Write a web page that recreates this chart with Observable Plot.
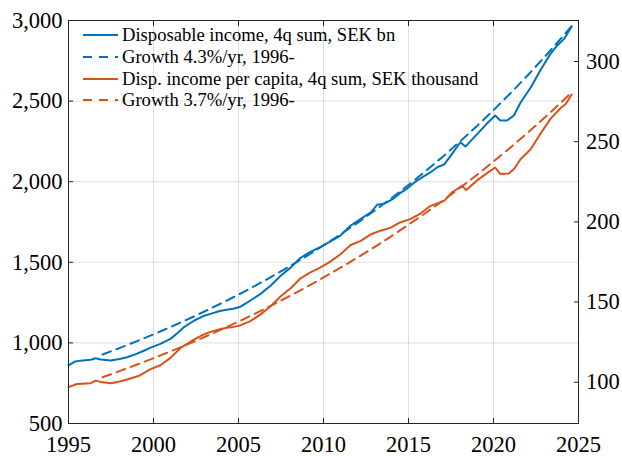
<!DOCTYPE html>
<html>
<head>
<meta charset="utf-8">
<script src="https://cdn.jsdelivr.net/npm/d3@7"></script>
<script src="https://cdn.jsdelivr.net/npm/@observablehq/plot@0.6"></script>
<style>
  html, body { margin: 0; padding: 0; background: #fff; }
  #wrap { position: relative; width: 622px; height: 456px; }
  #wrap svg text { font-family: "Liberation Serif", "Times New Roman", serif; }
  #legend { position: absolute; left: 83px; top: 24.5px; font-family: "Liberation Serif", "Times New Roman", serif; font-size: 18.6px; color: #000; }
  .row { display: flex; align-items: center; height: 21.7px; white-space: nowrap; }
  .row svg { display: block; }
  .row span { margin-left: 3px; }
</style>
</head>
<body>
<div id="wrap"><div id="legend"></div></div>
<script>
// ---- data ----
const incYears = [1995.0,1995.4,1995.7,1996.3,1996.6,1996.9,1997.5,1998.0,1998.45,1999.0,1999.4,1999.8,2000.4,2001.0,2001.4,2001.8,2002.4,2002.9,2003.35,2003.9,2004.3,2004.7,2005.1,2005.4,2005.7,2006.3,2006.9,2007.5,2008.1,2008.65,2009.2,2009.8,2010.4,2011.0,2011.6,2012.2,2012.8,2013.15,2013.55,2014.1,2014.5,2014.9,2015.5,2016.3,2016.7,2017.1,2017.5,2018.05,2018.35,2019.05,2019.6,2020.1,2020.4,2020.8,2021.2,2021.6,2022.2,2022.75,2023.35,2023.75,2024.15,2024.6];
const incValues = [860,885,890,895,905,897,891,900,911,932,950,969,994,1025,1060,1098,1139,1165,1180,1198,1205,1212,1224,1243,1263,1304,1356,1418,1470,1528,1563,1594,1629,1666,1728,1770,1811,1857,1863,1894,1929,1956,2007,2059,2090,2107,2163,2245,2218,2297,2359,2411,2380,2380,2411,2493,2586,2690,2793,2845,2886,2963];

const pcYears = [1995.0,1995.5,1996.3,1996.6,1996.9,1997.5,1998.0,1998.45,1999.2,1999.8,2000.4,2001.0,2001.6,2002.4,2002.9,2003.35,2003.9,2004.3,2004.7,2005.1,2005.7,2006.3,2006.9,2007.5,2008.1,2008.65,2009.2,2009.8,2010.4,2011.0,2011.6,2012.2,2012.8,2013.35,2013.95,2014.5,2015.1,2015.7,2016.3,2017.1,2017.55,2018.15,2018.4,2019.05,2019.6,2020.1,2020.4,2020.9,2021.2,2021.6,2022.2,2022.75,2023.35,2023.95,2024.25,2024.6];
const pcValues = [96.9,98.9,99.4,101.0,100.2,99.4,100.5,101.7,104.2,108.0,110.6,115.2,121.4,126.7,129.5,131.4,133.0,133.9,134.5,135.4,138.1,142.3,147.5,153.75,158.9,164.8,168.3,171.4,175.2,179.8,185.6,188.1,192.3,194.5,196.4,199.6,201.7,205.2,210.0,213.1,218.3,222.5,219.8,226.0,230.2,233.9,229.8,230.2,232.9,239.2,245.4,254.8,264.2,271.0,273.5,279.4];

const trendYears = [1997,1998,1999,2000,2001,2002,2003,2004,2005,2006,2007,2008,2009,2010,2011,2012,2013,2014,2015,2016,2017,2018,2019,2020,2021,2022,2023,2024,2024.6];
const incTrend = [928,967.9,1009.5,1052.9,1098.2,1145.4,1194.7,1246.0,1299.6,1355.5,1413.8,1474.6,1538.0,1604.1,1673.1,1745.0,1820.1,1898.4,1980.0,2065.1,2153.9,2246.5,2343.1,2443.9,2549.0,2658.6,2772.9,2892.2,2966];
const pcTrend = [103.1,106.9,110.9,115.0,119.2,123.6,128.2,132.9,137.8,142.9,148.2,153.7,159.4,165.3,171.4,177.7,184.3,191.1,198.2,205.5,213.1,221.0,229.1,237.6,246.4,255.5,264.9,274.7,280.8];

const xTicks = [1995,2000,2005,2010,2015,2020,2025];
const yTicksLeft = [500,1000,1500,2000,2500,3000];
const yTicksRight = [100,150,200,250,300];

const legendLabels = [
  "Disposable income, 4q sum, SEK bn",
  "Growth 4.3%/yr, 1996-",
  "Disp. income per capita, 4q sum, SEK thousand",
  "Growth 3.7%/yr, 1996-"
];

// ---- right axis mapping into left-axis units ----
const rA = -238.6, rB = 9.9475;
const toLeft = r => rA + rB * r;
const toRight = l => (l - rA) / rB;

const BLUE = "#0072BD", ORANGE = "#D95319", AXIS = "#262626";

const inc = incYears.map((x, i) => ({x, y: incValues[i]}));
const pc = pcYears.map((x, i) => ({x, y: pcValues[i]}));
const incT = trendYears.map((x, i) => ({x, y: incTrend[i]}));
const pcT = trendYears.map((x, i) => ({x, y: pcTrend[i]}));

const fmt = d3.format(",");

const chart = Plot.plot({
  width: 622,
  height: 456,
  marginLeft: 68,
  marginRight: 44,
  marginTop: 20,
  marginBottom: 33,
  style: {fontFamily: "Liberation Serif", fontSize: "22.5px", color: AXIS, background: "transparent"},
  x: {domain: [1995, 2025]},
  y: {domain: [500, 3000]},
  marks: [
    Plot.gridX(xTicks, {stroke: "#000", strokeOpacity: 0.13}),
    Plot.gridY(yTicksLeft, {stroke: "#000", strokeOpacity: 0.13}),
    Plot.line(inc, {x: "x", y: "y", stroke: BLUE, strokeWidth: 2}),
    Plot.line(incT, {x: "x", y: "y", stroke: BLUE, strokeWidth: 2, strokeDasharray: "9,6"}),
    Plot.line(pc, {x: "x", y: d => toLeft(d.y), stroke: ORANGE, strokeWidth: 2}),
    Plot.line(pcT, {x: "x", y: d => toLeft(d.y), stroke: ORANGE, strokeWidth: 2, strokeDasharray: "9,6"}),
    Plot.axisX(xTicks, {anchor: "bottom", tickSize: -5, tickPadding: 18, tickFormat: d => String(d), label: null, fill: "#000"}),
    Plot.axisX(xTicks, {anchor: "top", tickSize: -5, tickFormat: () => "", label: null}),
    Plot.axisY(yTicksLeft, {anchor: "left", tickSize: -5, tickPadding: 11, tickFormat: fmt, label: null, fill: "#000"}),
    Plot.axisY(yTicksRight.map(toLeft), {anchor: "right", tickSize: -5, tickPadding: 12.5, tickFormat: d => String(Math.round(toRight(d))), label: null, fill: "#000"}),
    Plot.frame({stroke: AXIS, strokeWidth: 1})
  ]
});

const wrap = document.getElementById("wrap");
wrap.insertBefore(chart, wrap.firstChild);

// ---- legend ----
const legend = document.getElementById("legend");
const styles = [
  {color: BLUE, dash: null},
  {color: BLUE, dash: "9,7"},
  {color: ORANGE, dash: null},
  {color: ORANGE, dash: "9,7"}
];
legendLabels.forEach((label, i) => {
  const row = document.createElement("div");
  row.className = "row";
  const s = styles[i];
  row.innerHTML = `<svg width="36" height="6"><line x1="0" y1="3" x2="35" y2="3" stroke="${s.color}" stroke-width="2" ${s.dash ? `stroke-dasharray="${s.dash}"` : ""}/></svg><span>${label}</span>`;
  legend.appendChild(row);
});
</script>
</body>
</html>
